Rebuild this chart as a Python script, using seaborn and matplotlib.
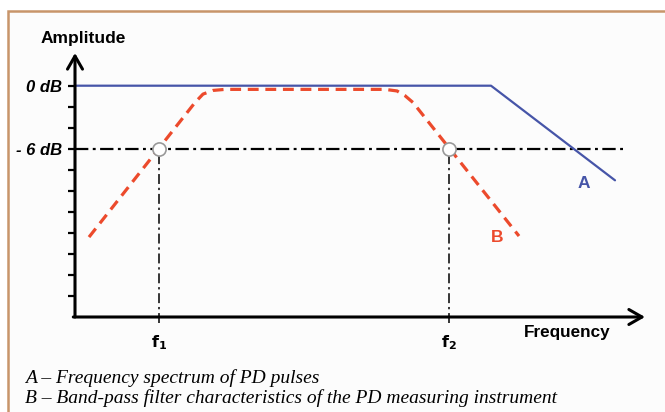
"Band-pass filter of a PD measuring instrument vs. PD pulse spectrum (amplitude vs frequency sketch)"
import matplotlib
matplotlib.use("Agg")
import matplotlib.pyplot as plt
from matplotlib.patches import Rectangle
import seaborn as sns

# ---------------------------------------------- DATA (arbitrary frequency units, amplitude in dB) ----------------------------------------------
# A - frequency spectrum of PD pulses
spectrum_freq = [0.0, 41.6, 54.0]
spectrum_db = [0.0, 0.0, -9.0]

# B - band-pass filter characteristic of the instrument
filter_freq = [1.4, 12.0, 12.8, 13.8, 15.0, 31.0, 32.2, 33.0, 33.8, 44.4]
filter_db = [-14.4, -1.6, -0.8, -0.45, -0.35, -0.35, -0.5, -0.95, -1.6, -14.3]

# -6 dB cut-off frequencies
cutoff_freq = [8.4, 37.4]
cutoff_labels = [r"$\mathbf{f_1}$", r"$\mathbf{f_2}$"]
cutoff_db = -6

amp_ticks = list(range(-20, 1, 2))
amp_labels = {0: "0 dB", -6: "- 6 dB"}

captions = ["A \u2013 Frequency spectrum of PD pulses",
            "B \u2013 Band-pass filter characteristics of the PD measuring instrument"]

BLUE = "#4655a8"
RED = "#ec4a2c"

sns.set_style("white")
plt.rcParams["font.family"] = ["Liberation Sans", "DejaVu Sans"]
plt.rcParams["text.color"] = "black"
plt.rcParams["ytick.labelcolor"] = "black"
plt.rcParams["xtick.labelcolor"] = "black"

fig = plt.figure(figsize=(6.65, 4.12), dpi=100)

# brown frame of the figure box (only top and left edges are visible)
fig.patches.append(Rectangle((8 / 665, -0.5), 1.2, 0.5 + (1 - 11 / 412), transform=fig.transFigure,
                             facecolor="#fcfcfc", edgecolor="#c8956a", lw=1.8, zorder=-10))

ax = fig.add_axes([75 / 665, 1 - 317 / 412, 570 / 665, (317 - 53) / 412])
ax.set_facecolor("none")
ax.set_xlim(0, 57.0)
ax.set_ylim(-22.0, 3.11)

# -6 dB reference line and cut-off markers
ax.hlines(cutoff_db, 0, 55.2, color="black", lw=1.6, linestyle=(0, (6.0, 2.0, 1.3, 2.0)), zorder=2)
ax.vlines(cutoff_freq, -22.6, cutoff_db, color="black", lw=1.1, linestyle=(0, (6.5, 2.5, 1.5, 2.5)),
          zorder=2, clip_on=False)

sns.lineplot(x=spectrum_freq, y=spectrum_db, color=BLUE, lw=1.6, ax=ax, zorder=3)
sns.lineplot(x=filter_freq, y=filter_db, color=RED, lw=2.3, linestyle=(0, (3.4, 2.1)), ax=ax, zorder=4)

ax.scatter(cutoff_freq, [cutoff_db] * len(cutoff_freq), s=90, facecolor="white", edgecolor="#999999",
           lw=1.2, zorder=5)

ax.text(50.9, -9.3, "A", color=BLUE, fontsize=12.5, fontweight="bold", ha="center", va="center")
ax.text(42.2, -14.4, "B", color=RED, fontsize=12.5, fontweight="bold", ha="center", va="center")

# axes drawn as arrows
for s in ax.spines.values():
    s.set_visible(False)
arrow = dict(arrowstyle="->,head_length=0.47,head_width=0.27", lw=2.2, color="black",
             mutation_scale=20, shrinkA=0, shrinkB=0)
ax.annotate("", xy=(0, 1), xytext=(0, 0), xycoords="axes fraction", arrowprops=arrow)
ax.annotate("", xy=(1, 0), xytext=(-0.003, 0), xycoords="axes fraction", arrowprops=arrow)

ax.set_yticks(amp_ticks)
ax.set_yticklabels([amp_labels.get(t, "") for t in amp_ticks], fontsize=12, fontweight="bold", style="italic")
ax.tick_params(axis="y", left=True, length=5, width=1.6, pad=4, color="black")
ax.set_xticks(cutoff_freq)
ax.set_xticklabels(cutoff_labels, fontsize=11.5)
ax.tick_params(axis="x", bottom=False, length=0, pad=12)

fig.text(83 / 665, 1 - 38 / 412, "Amplitude", fontsize=12.5, fontweight="bold", ha="center", va="center")
fig.text(567 / 665, 1 - 333 / 412, "Frequency", fontsize=12.3, fontweight="bold", ha="center", va="center")

for i, line in enumerate(captions):
    fig.text(25 / 665, 1 - (378 + 20 * i) / 412, line, fontsize=14, style="italic",
             family=["Liberation Serif", "DejaVu Serif"], ha="left", va="center")

fig.savefig("out.png", dpi=100)
